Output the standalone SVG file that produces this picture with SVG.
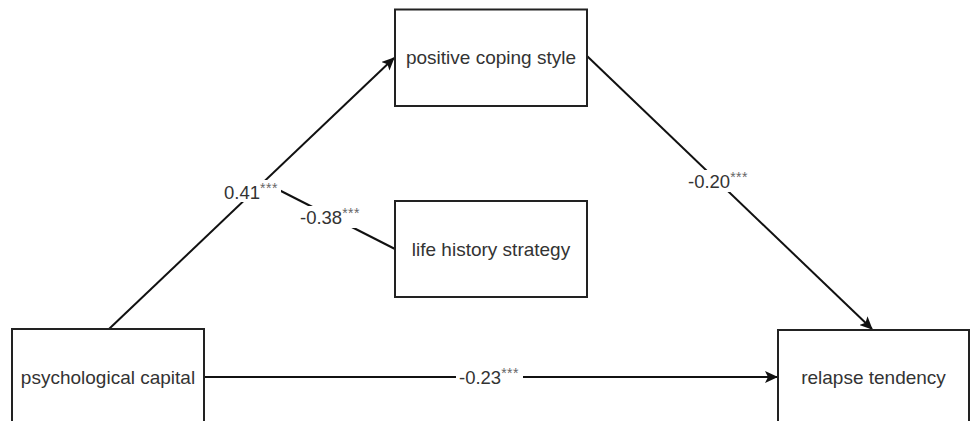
<svg xmlns="http://www.w3.org/2000/svg" width="971" height="421" viewBox="0 0 971 421">
<style>
.box{fill:#fff;stroke:#222;stroke-width:2}
.nt{font-family:"Liberation Sans",Arial,sans-serif;font-size:19px;fill:#333;text-anchor:middle}
.lt{font-family:"Liberation Sans",Arial,sans-serif;font-size:18.5px;fill:#333;text-anchor:middle}
.st{font-size:14px;fill:#666;letter-spacing:0.5px}
.ln{stroke:#111;stroke-width:2;fill:none}
.bg{fill:#fff}
</style>
<defs>
<marker id="arr" markerWidth="13" markerHeight="12" refX="12" refY="6" orient="auto" markerUnits="userSpaceOnUse">
<path d="M0,0 L13,6 L0,12 L3,6 Z" fill="#111"/>
</marker>
</defs>
<rect width="971" height="421" fill="#fff"/>
<g id="connectors">
<line class="ln" x1="109" y1="329" x2="394" y2="58" marker-end="url(#arr)"/>
<line class="ln" x1="587" y1="56" x2="872" y2="329" marker-end="url(#arr)"/>
<line class="ln" x1="204" y1="377" x2="777" y2="377" marker-end="url(#arr)"/>
<line class="ln" x1="395" y1="249" x2="279" y2="190"/>
<rect class="bg" x="221" y="180" width="60" height="22"/>
<text class="lt" x="251" y="199">0.41<tspan class="st" dy="-6">***</tspan></text>
<rect class="bg" x="297" y="206" width="67" height="22"/>
<text class="lt" x="330" y="224">-0.38<tspan class="st" dy="-6">***</tspan></text>
<rect class="bg" x="684" y="170" width="69" height="22"/>
<text class="lt" x="718" y="188">-0.20<tspan class="st" dy="-6">***</tspan></text>
<rect class="bg" x="456" y="366" width="67" height="22"/>
<text class="lt" x="489" y="384">-0.23<tspan class="st" dy="-6">***</tspan></text>
</g>
<g id="positive">
<rect class="box" x="395" y="9.5" width="192" height="96.5"/>
<text class="nt" x="491" y="64">positive coping style</text>
</g>
<g id="life">
<rect class="box" x="395" y="201" width="192" height="96"/>
<text class="nt" x="491" y="256">life history strategy</text>
</g>
<g id="psych">
<rect class="box" x="12" y="329" width="192" height="98"/>
<text class="nt" x="108" y="384">psychological capital</text>
</g>
<g id="relapse">
<rect class="box" x="778" y="330" width="191" height="98"/>
<text class="nt" x="873.5" y="384">relapse tendency</text>
</g>
</svg>
